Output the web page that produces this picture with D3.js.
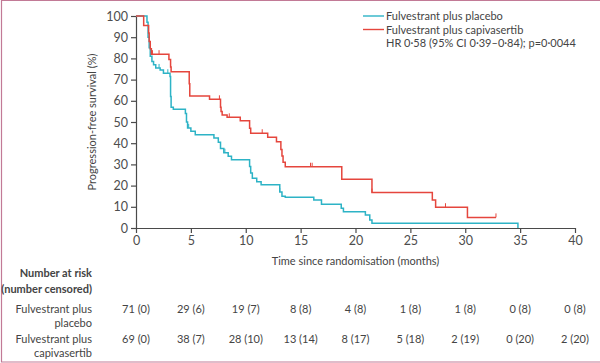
<!DOCTYPE html>
<html>
<head>
<meta charset="utf-8">
<script src="https://cdn.jsdelivr.net/npm/d3@7"></script>
<style>
  body { margin: 0; background: #fff; }
  svg { display: block; font-family: Lato, "Open Sans", sans-serif; }
  .axis path, .axis line { stroke: #4a4a4a; stroke-width: 1.2; }
  .axis text { fill: #4d4d4d; font-size: 12.5px; font-family: Lato, sans-serif; }
  .lbl { fill: #444; font-size: 11px; }
</style>
</head>
<body>
<svg id="chart" width="600" height="363"></svg>
<script>

// Kaplan-Meier steps: [month, survival %]
const placeboSteps = [
	[0, 100], [1.0, 97], [1.1, 90], [1.2, 85], [1.3, 81], [1.45, 78.5], [1.6, 77],
	[1.8, 75.5], [2.2, 74.5], [2.5, 73], [3.1, 71.5], [3.15, 62], [3.2, 57], [3.4, 56],
	[4.5, 54], [4.6, 50], [4.7, 47.2], [5.0, 45.6], [5.4, 44], [7.1, 42.5], [7.5, 40.5],
	[7.7, 37.5], [8.0, 35.5], [8.4, 33.8], [8.7, 32.2], [10.35, 29], [10.45, 26],
	[10.6, 23.5], [11.0, 21.8], [11.4, 20.4], [13.1, 17], [13.3, 15], [13.6, 14.5],
	[16.2, 13.2], [16.9, 11.2], [18.7, 9.3], [18.9, 7.7], [20.9, 6.1], [21.3, 3.8],
	[21.5, 2.2], [34.8, 0]
];
const placeboCensor = [2.1, 2.9, 4.8, 8.1, 13.1];

const capiSteps = [
	[0, 100], [0.7, 95.5], [1.15, 92], [1.2, 88], [1.3, 84.5], [1.4, 82], [3.0, 79.5],
	[3.15, 76], [3.2, 73.7], [4.85, 68], [4.9, 62.3], [6.7, 60.7], [7.7, 57], [7.75, 54.9],
	[7.85, 53.3], [8.3, 52.2], [9.5, 50.6], [10.35, 47], [10.45, 44.7], [12.0, 42.8],
	[12.8, 40.7], [13.2, 37], [13.3, 34], [13.4, 31], [13.6, 28.9], [18.75, 23],
	[21.5, 16.7], [27.0, 13.2], [27.3, 9.8], [30.2, 5.0]
];
const capiEnd = 32.8;
const capiCensor = [1.5, 2.1, 7.6, 8.5, 11.5, 15.9, 16.05, 21.5, 28.2, 32.8];

const xTicks = [0, 5, 10, 15, 20, 25, 30, 35, 40];
const yTicks = [0, 10, 20, 30, 40, 50, 60, 70, 80, 90, 100];

const riskPlacebo = ["71 (0)", "29 (6)", "19 (7)", "8 (8)", "4 (8)", "1 (8)", "1 (8)", "0 (8)", "0 (8)"];
const riskCapi = ["69 (0)", "38 (7)", "28 (10)", "13 (14)", "8 (17)", "5 (18)", "2 (19)", "0 (20)", "2 (20)"];

const blue = "#2db3c6", red = "#e5463d";

const svg = d3.select("#chart");

// frame
svg.append("path")
	.attr("d", "M600,0.5H1.5V362H600")
	.attr("fill", "none")
	.attr("stroke", "#c27a96")
	.attr("stroke-width", 1.2);

const x = d3.scaleLinear().domain([0, 40]).range([136, 575]);
const y = d3.scaleLinear().domain([0, 100]).range([228, 16]);

svg.append("g")
	.classed("axis", true)
	.attr("transform", "translate(0,228)")
	.call(d3.axisBottom(x).tickValues(xTicks).tickSize(5).tickPadding(3).tickSizeOuter(0));

svg.append("g")
	.classed("axis", true)
	.attr("transform", "translate(136,0)")
	.call(d3.axisLeft(y).tickValues(yTicks).tickSize(5).tickPadding(3).tickSizeOuter(0));

svg.selectAll(".axis .domain").attr("stroke-width", 1.4);

// curves
const line = d3.line()
	.x(d => x(d[0]))
	.y(d => y(d[1]))
	.curve(d3.curveStepAfter);

function survAt(steps, t) {
	let s = steps[0][1];
	steps.forEach(d => { if (d[0] <= t) s = d[1]; });
	return s;
}

function drawArm(steps, end, censor, colour) {
	const pts = end == null ? steps : steps.concat([[end, steps[steps.length - 1][1]]]);
	svg.append("path")
		.attr("d", line(pts))
		.attr("fill", "none")
		.attr("stroke", colour)
		.attr("stroke-width", 1.5);

	svg.append("g").selectAll("line")
		.data(censor)
		.join("line")
		.attr("x1", d => x(d)).attr("x2", d => x(d))
		.attr("y1", d => y(survAt(steps, d)))
		.attr("y2", d => y(survAt(steps, d)) - 4)
		.attr("stroke", colour)
		.attr("stroke-width", 1);
}

drawArm(placeboSteps, null, placeboCensor, blue);
drawArm(capiSteps, capiEnd, capiCensor, red);

// axis titles
svg.append("text")
	.classed("lbl", true)
	.attr("x", x(20)).attr("y", 265)
	.attr("text-anchor", "middle")
	.text("Time since randomisation (months)");

svg.append("text")
	.classed("lbl", true)
	.attr("transform", "translate(96," + y(50) + ") rotate(-90)")
	.attr("text-anchor", "middle")
	.text("Progression-free survival (%)");

// legend
const legend = [
	{ label: "Fulvestrant plus placebo", colour: blue },
	{ label: "Fulvestrant plus capivasertib", colour: red },
	{ label: "HR 0·58 (95% CI 0·39–0·84); p=0·0044", colour: null }
];
const lg = svg.append("g").attr("transform", "translate(363,16)");
legend.forEach((d, i) => {
	if (d.colour) {
		lg.append("line")
			.attr("x1", 0).attr("x2", 21)
			.attr("y1", i * 13.5).attr("y2", i * 13.5)
			.attr("stroke", d.colour).attr("stroke-width", 1.4);
	}
	lg.append("text")
		.classed("lbl", true)
		.attr("x", 23).attr("y", i * 13.5 + 4)
		.text(d.label);
});

// number at risk table
const head = svg.append("g").attr("text-anchor", "end");
head.append("text").classed("lbl", true).attr("x", 92).attr("y", 277)
	.attr("font-weight", "bold").attr("font-size", "10.3px").text("Number at risk");
head.append("text").classed("lbl", true).attr("x", 92).attr("y", 293)
	.attr("font-weight", "bold").attr("font-size", "10.3px").text("(number censored)");
[["Fulvestrant plus", "placebo"], ["Fulvestrant plus", "capivasertib"]].forEach((rows, i) => {
	rows.forEach((r, j) => {
		head.append("text").classed("lbl", true)
			.attr("x", 92).attr("y", 313 + i * 30 + j * 14)
			.text(r);
	});
});

[riskPlacebo, riskCapi].forEach((vals, i) => {
	svg.append("g").selectAll("text")
		.data(vals)
		.join("text")
		.classed("lbl", true)
		.attr("x", (d, k) => x(xTicks[k]))
		.attr("y", 313 + i * 30)
		.attr("text-anchor", "middle")
		.text(d => d);
});

</script>
</body>
</html>
